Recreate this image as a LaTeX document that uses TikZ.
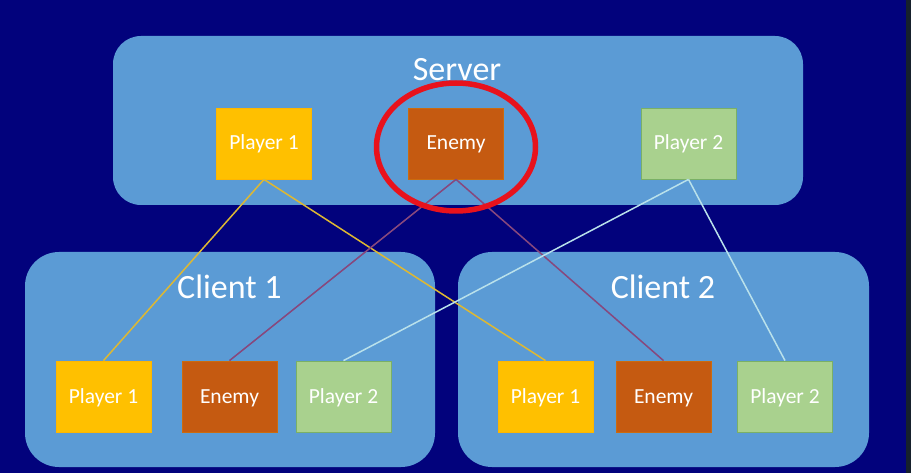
\documentclass[tikz,border=0pt]{standalone}
\usepackage{fontspec}
\setmainfont{Carlito}
\usetikzlibrary{shapes.geometric}
\definecolor{navy}{RGB}{2,2,124}
\definecolor{boxblue}{RGB}{91,155,213}
\definecolor{pone}{RGB}{255,192,0}
\definecolor{enemycol}{RGB}{197,90,17}
\definecolor{ptwo}{RGB}{169,209,142}
\definecolor{yline}{RGB}{222,184,50}
\definecolor{mline}{RGB}{135,72,125}
\definecolor{cline}{RGB}{185,225,235}
\definecolor{ringred}{RGB}{232,18,28}
\definecolor{strip}{RGB}{22,32,44}
\tikzset{
  container/.style={fill=boxblue, draw=none, inner sep=0pt},
  title/.style={text=white, font=\fontsize{34}{36}\selectfont, anchor=base, inner sep=0pt},
  unit/.style={minimum width=95pt, minimum height=71pt, inner sep=0pt, text=white,
    font=\fontsize{21.5}{24}\selectfont, text height=16pt, text depth=3pt, line width=0.8pt},
  punit/.style={unit, fill=pone, draw=pone!85!orange},
  eunit/.style={unit, fill=enemycol, draw=enemycol!90!yellow},
  tunit/.style={unit, fill=ptwo, draw=ptwo!80!black!90!green},
  link/.style={line width=1.5pt},
}
\begin{document}
\begin{tikzpicture}[x=1pt,y=-1pt]
\useasboundingbox (0,0) rectangle (911,473);
\fill[navy] (0,0) rectangle (911,473);
\fill[strip] (906,0) rectangle (911,473);
% containers
\node[container, rounded corners=28pt, minimum width=690pt, minimum height=169pt] (server) at (458,120.5) {};
\node[container, rounded corners=34pt, minimum width=410pt, minimum height=215pt] (client1) at (230,359.5) {};
\node[container, rounded corners=34pt, minimum width=411pt, minimum height=215pt] (client2) at (663.5,359.5) {};
\node[title] (servertitle) at (457,81) {Server};
\node[title] (client1title) at (229.5,299) {Client 1};
\node[title] (client2title) at (663,299) {Client 2};
% units
\node[punit] (sp1) at (264,143.5) {Player 1};
\node[eunit] (sen) at (456,143.5) {Enemy};
\node[tunit] (sp2) at (688.5,143.5) {Player 2};
\node[punit] (ap1) at (103.5,396.5) {Player 1};
\node[eunit] (aen) at (229.5,396.5) {Enemy};
\node[tunit] (ap2) at (343.5,396.5) {Player 2};
\node[punit] (bp1) at (545.5,396.5) {Player 1};
\node[eunit] (ben) at (663.5,396.5) {Enemy};
\node[tunit] (bp2) at (785,396.5) {Player 2};
% links
\draw[link, yline] (sp1.south) -- (ap1.north);
\draw[link, yline] (sp1.south) -- (bp1.north);
\draw[link, mline] (sen.south) -- (aen.north);
\draw[link, mline] (sen.south) -- (ben.north);
\draw[link, cline] (sp2.south) -- (ap2.north);
\draw[link, cline] (sp2.south) -- (bp2.north);
% ring
\node[ellipse, draw=ringred, line width=5.5pt, minimum width=159pt, minimum height=128pt] (ring) at (456,147) {};
\end{tikzpicture}
\end{document}
